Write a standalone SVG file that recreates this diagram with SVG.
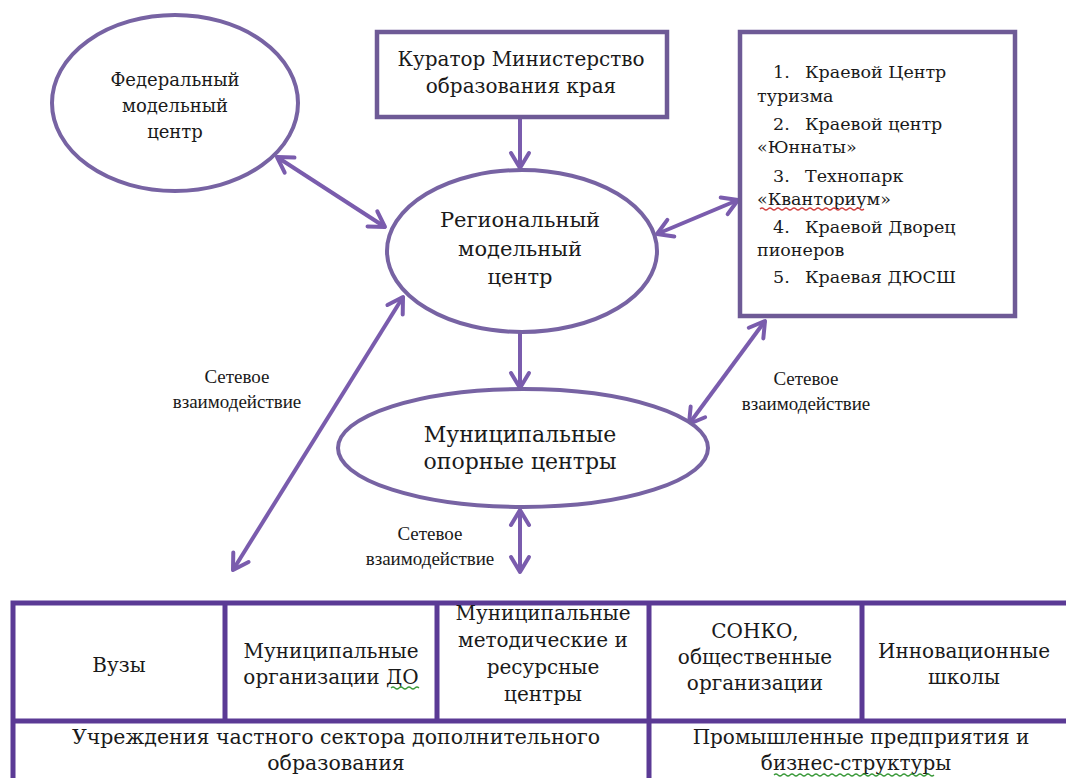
<svg xmlns="http://www.w3.org/2000/svg" width="1066" height="778" viewBox="0 0 1066 778">
<style>
.bg{fill:#ffffff}
.ell{fill:#ffffff;stroke:#7763a3;stroke-width:4}
.box{fill:#ffffff;stroke:#6e5a96;stroke-width:4.5}
.con{fill:none;stroke:#7a5cad;stroke-width:4;stroke-linecap:butt}
.tbl{fill:none;stroke:#5b3a95;stroke-width:5}
.t{font-family:"DejaVu Serif","Liberation Serif",serif;fill:#1a1a1a}
.c{text-anchor:middle}
.lbl{font-family:"Liberation Serif","DejaVu Serif",serif;font-size:19px;fill:#1a1a1a;text-anchor:middle}
.sq{fill:none;stroke-width:1.2}
</style>
<defs>
<marker id="ah" viewBox="-18 -12 22 24" markerWidth="22" markerHeight="24" refX="0" refY="0" orient="auto-start-reverse" markerUnits="userSpaceOnUse">
<path d="M-15,-9 L0,0 L-15,9" fill="none" stroke="#7a5cad" stroke-width="4" stroke-linejoin="round" stroke-linecap="round"/>
</marker>
</defs>
<rect class="bg" x="0" y="0" width="1066" height="778"/>

<g id="connectors">
<line class="con" x1="277" y1="157" x2="385" y2="227" marker-start="url(#ah)" marker-end="url(#ah)"/>
<line class="con" x1="520" y1="117" x2="520" y2="168" marker-end="url(#ah)"/>
<line class="con" x1="657" y1="234" x2="738" y2="200" marker-start="url(#ah)" marker-end="url(#ah)"/>
<line class="con" x1="520" y1="333" x2="520" y2="388" marker-end="url(#ah)"/>
<line class="con" x1="403" y1="297" x2="233" y2="570" marker-start="url(#ah)" marker-end="url(#ah)"/>
<line class="con" x1="765" y1="321" x2="689" y2="424" marker-start="url(#ah)" marker-end="url(#ah)"/>
<line class="con" x1="520" y1="510" x2="520" y2="572" marker-start="url(#ah)" marker-end="url(#ah)"/>
</g>

<g id="federal">
<ellipse class="ell" cx="175" cy="103" rx="123" ry="88"/>
<text class="t c" font-size="18"><tspan x="175" y="86">Федеральный</tspan><tspan x="175" y="112">модельный</tspan><tspan x="175" y="138">центр</tspan></text>
</g>

<g id="curator">
<rect class="box" x="377" y="32" width="290" height="85"/>
<text class="t c" font-size="20"><tspan x="521" y="66">Куратор Министерство</tspan><tspan x="521" y="93">образования края</tspan></text>
</g>

<g id="regional">
<ellipse class="ell" cx="522" cy="251" rx="135" ry="81"/>
<text class="t c" font-size="21"><tspan x="520" y="227">Региональный</tspan><tspan x="520" y="256">модельный</tspan><tspan x="520" y="284">центр</tspan></text>
</g>

<g id="regional-institutions">
<rect class="box" x="740" y="32" width="275" height="284"/>
<text class="t" font-size="17.5">
<tspan x="773" y="78">1.</tspan><tspan x="805" y="78">Краевой Центр</tspan>
<tspan x="757" y="102">туризма</tspan>
<tspan x="773" y="130">2.</tspan><tspan x="805" y="130">Краевой центр</tspan>
<tspan x="757" y="153">«Юннаты»</tspan>
<tspan x="773" y="182">3.</tspan><tspan x="805" y="182">Технопарк</tspan>
<tspan x="757" y="205">«Кванториум»</tspan>
<tspan x="773" y="233">4.</tspan><tspan x="805" y="233">Краевой Дворец</tspan>
<tspan x="757" y="256">пионеров</tspan>
<tspan x="773" y="283">5.</tspan><tspan x="805" y="283">Краевая ДЮСШ</tspan>
</text>
<path class="sq" stroke="#d04040" d="M760,209 q2,-2 4,0 t4,0 t4,0 t4,0 t4,0 t4,0 t4,0 t4,0 t4,0 t4,0 t4,0 t4,0 t4,0 t4,0 t4,0 t4,0 t4,0 t4,0 t4,0 t4,0 t4,0 t4,0 t4,0 t4,0 t4,0 t4,0"/>
</g>

<g id="municipal">
<ellipse class="ell" cx="523" cy="448" rx="185" ry="59"/>
<text class="t c" font-size="22"><tspan x="520" y="442">Муниципальные</tspan><tspan x="520" y="469">опорные центры</tspan></text>
</g>

<g id="labels">
<text class="lbl"><tspan x="237" y="383">Сетевое</tspan><tspan x="237" y="408">взаимодействие</tspan></text>
<text class="lbl"><tspan x="806" y="385">Сетевое</tspan><tspan x="806" y="410">взаимодействие</tspan></text>
<text class="lbl"><tspan x="430" y="540">Сетевое</tspan><tspan x="430" y="565">взаимодействие</tspan></text>
</g>

<g id="partners-table">
<path class="tbl" d="M13,603 H1075 M13,721 H1075 M13,600.5 V780 M225,603 V721 M437,603 V721 M649,603 V780 M862,603 V721"/>
<g id="cell-vuzy"><text class="t c" font-size="20" x="119" y="672">Вузы</text></g>
<g id="cell-mun-do"><text class="t c" font-size="20"><tspan x="331" y="658">Муниципальные</tspan><tspan x="331" y="684">организации ДО</tspan></text>
<path class="sq" stroke="#3a9a3a" d="M391,688 q2,-2 4,0 t4,0 t4,0 t4,0 t4,0 t4,0 t4,0"/></g>
<g id="cell-mun-method"><text class="t c" font-size="20"><tspan x="543" y="620">Муниципальные</tspan><tspan x="543" y="647">методические и</tspan><tspan x="543" y="674">ресурсные</tspan><tspan x="543" y="701">центры</tspan></text></g>
<g id="cell-sonko"><text class="t c" font-size="20"><tspan x="755" y="638">СОНКО,</tspan><tspan x="755" y="664">общественные</tspan><tspan x="755" y="690">организации</tspan></text></g>
<g id="cell-innov"><text class="t c" font-size="20"><tspan x="964" y="658">Инновационные</tspan><tspan x="964" y="684">школы</tspan></text></g>
<g id="cell-private"><text class="t c" font-size="20.5"><tspan x="336" y="744">Учреждения частного сектора дополнительного</tspan><tspan x="336" y="770">образования</tspan></text></g>
<g id="cell-industry"><text class="t c" font-size="20"><tspan x="861" y="744">Промышленные предприятия и</tspan><tspan x="856" y="770">бизнес-структуры</tspan></text>
<path class="sq" stroke="#3a9a3a" d="M774,775 q2,-2 4,0 t4,0 t4,0 t4,0 t4,0 t4,0 t4,0 t4,0 t4,0 t4,0 t4,0 t4,0 t4,0 t4,0 t4,0 t4,0 t4,0 t4,0 t4,0 t4,0 t4,0 t4,0 t4,0 t4,0 t4,0 t4,0 t4,0 t4,0 t4,0 t4,0 t4,0 t4,0 t4,0 t4,0 t4,0 t4,0 t4,0 t4,0 t4,0 t4,0"/></g>
</g>
</svg>
